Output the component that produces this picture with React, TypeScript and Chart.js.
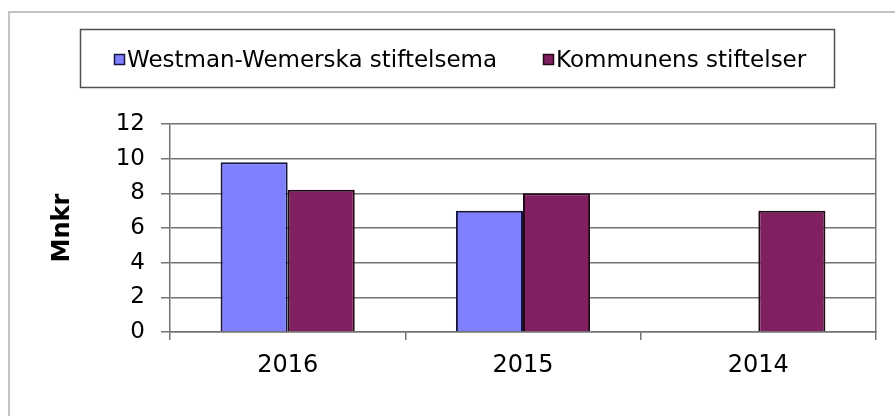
import React, { useEffect, useRef } from 'react';
import { Chart, registerables } from 'chart.js';

Chart.register(...registerables);

const categories = ['2016', '2015', '2014'];
const westmanValues: (number | null)[] = [9.8, 7.0, null];
const kommunensValues: (number | null)[] = [8.2, 8.0, 7.0];
const seriesLabels = ['Westman-Wemerska stiftelsema', 'Kommunens stiftelser'];
const yAxisTitle = 'Mnkr';
const yMin = 0;
const yMax = 12;
const yStep = 2;

const FONT = "'DejaVu Sans', Arial, sans-serif";
const GRID = '#747474';

export default function App() {
  const ref = useRef<HTMLCanvasElement>(null);

  useEffect(() => {
    const canvas = ref.current;
    if (!canvas) return;

    const framePlugin = {
      id: 'frame',
      beforeDraw(chart: any) {
        const c = chart.ctx;
        c.save();
        c.fillStyle = '#ffffff';
        c.fillRect(0, 0, chart.width, chart.height);
        c.strokeStyle = '#c4c4c4';
        c.lineWidth = 2;
        c.beginPath();
        c.moveTo(9, chart.height);
        c.lineTo(9, 12);
        c.lineTo(chart.width, 12);
        c.stroke();
        c.restore();
      },
    };

    const legendPlugin = {
      id: 'boxLegend',
      afterDraw(chart: any) {
        const c = chart.ctx;
        c.save();
        c.strokeStyle = '#505050';
        c.lineWidth = 1.5;
        c.strokeRect(80.5, 29.5, 754, 58);
        const sqX = [114, 543];
        c.font = `23px ${FONT}`;
        c.textBaseline = 'alphabetic';
        c.textAlign = 'left';
        chart.data.datasets.forEach((ds: any, i: number) => {
          const x = sqX[i];
          c.fillStyle = ds.backgroundColor;
          c.fillRect(x, 54, 11, 11);
          c.strokeStyle = ds.borderColor;
          c.lineWidth = 1.5;
          c.strokeRect(x + 0.5, 54.5, 10, 10);
          c.fillStyle = '#000000';
          c.fillText(ds.label, x + 13, 67);
        });
        c.restore();
      },
    };

    const chart = new Chart(canvas, {
      type: 'bar',
      data: {
        labels: categories,
        datasets: [
          {
            label: seriesLabels[0],
            data: westmanValues,
            backgroundColor: '#8080FF',
            borderColor: '#15153f',
            borderWidth: 2,
          },
          {
            label: seriesLabels[1],
            data: kommunensValues,
            backgroundColor: '#802060',
            borderColor: '#220818',
            borderWidth: 2,
          },
        ],
      },
      options: {
        responsive: false,
        animation: false,
        devicePixelRatio: 1,
        layout: { padding: { top: 124, right: 19, left: 0, bottom: 0 } },
        datasets: {
          bar: { categoryPercentage: 0.57, barPercentage: 1 },
        },
        plugins: {
          legend: { display: false },
          title: { display: false },
          tooltip: { enabled: false },
        },
        scales: {
          x: {
            offset: true,
            grid: {
              offset: true,
              drawOnChartArea: false,
              drawTicks: true,
              tickLength: 8,
              tickColor: GRID,
              lineWidth: 1.5,
              color: GRID,
            },
            border: { display: true, color: GRID, width: 1.5 },
            ticks: {
              font: { family: FONT, size: 24 },
              color: '#000000',
              padding: 11,
              maxRotation: 0,
            },
            afterFit(scale: any) {
              scale.height = 84;
            },
          },
          y: {
            min: yMin,
            max: yMax,
            ticks: {
              stepSize: yStep,
              font: { family: FONT, size: 23 },
              color: '#000000',
              padding: 16,
            },
            grid: {
              color: GRID,
              lineWidth: 1.5,
              tickLength: 9,
              tickColor: GRID,
            },
            border: { display: true, color: GRID, width: 1.5 },
            title: {
              display: true,
              text: yAxisTitle,
              font: { family: FONT, size: 24, weight: 'bold' },
              color: '#000000',
              padding: { top: 48, bottom: 0 },
            },
            afterFit(scale: any) {
              scale.width = 170;
            },
          },
          yRight: {
            position: 'right',
            min: yMin,
            max: yMax,
            ticks: { display: false },
            grid: { drawOnChartArea: false, drawTicks: false },
            border: { display: true, color: GRID, width: 1.5 },
            afterFit(scale: any) {
              scale.width = 0;
            },
          },
        },
      },
      plugins: [framePlugin, legendPlugin],
    } as any);

    return () => chart.destroy();
  }, []);

  return (
    <div style={{ position: 'absolute', left: 0, top: 0, width: 895, height: 416 }}>
      <canvas ref={ref} width={895} height={416} style={{ display: 'block' }} />
    </div>
  );
}
